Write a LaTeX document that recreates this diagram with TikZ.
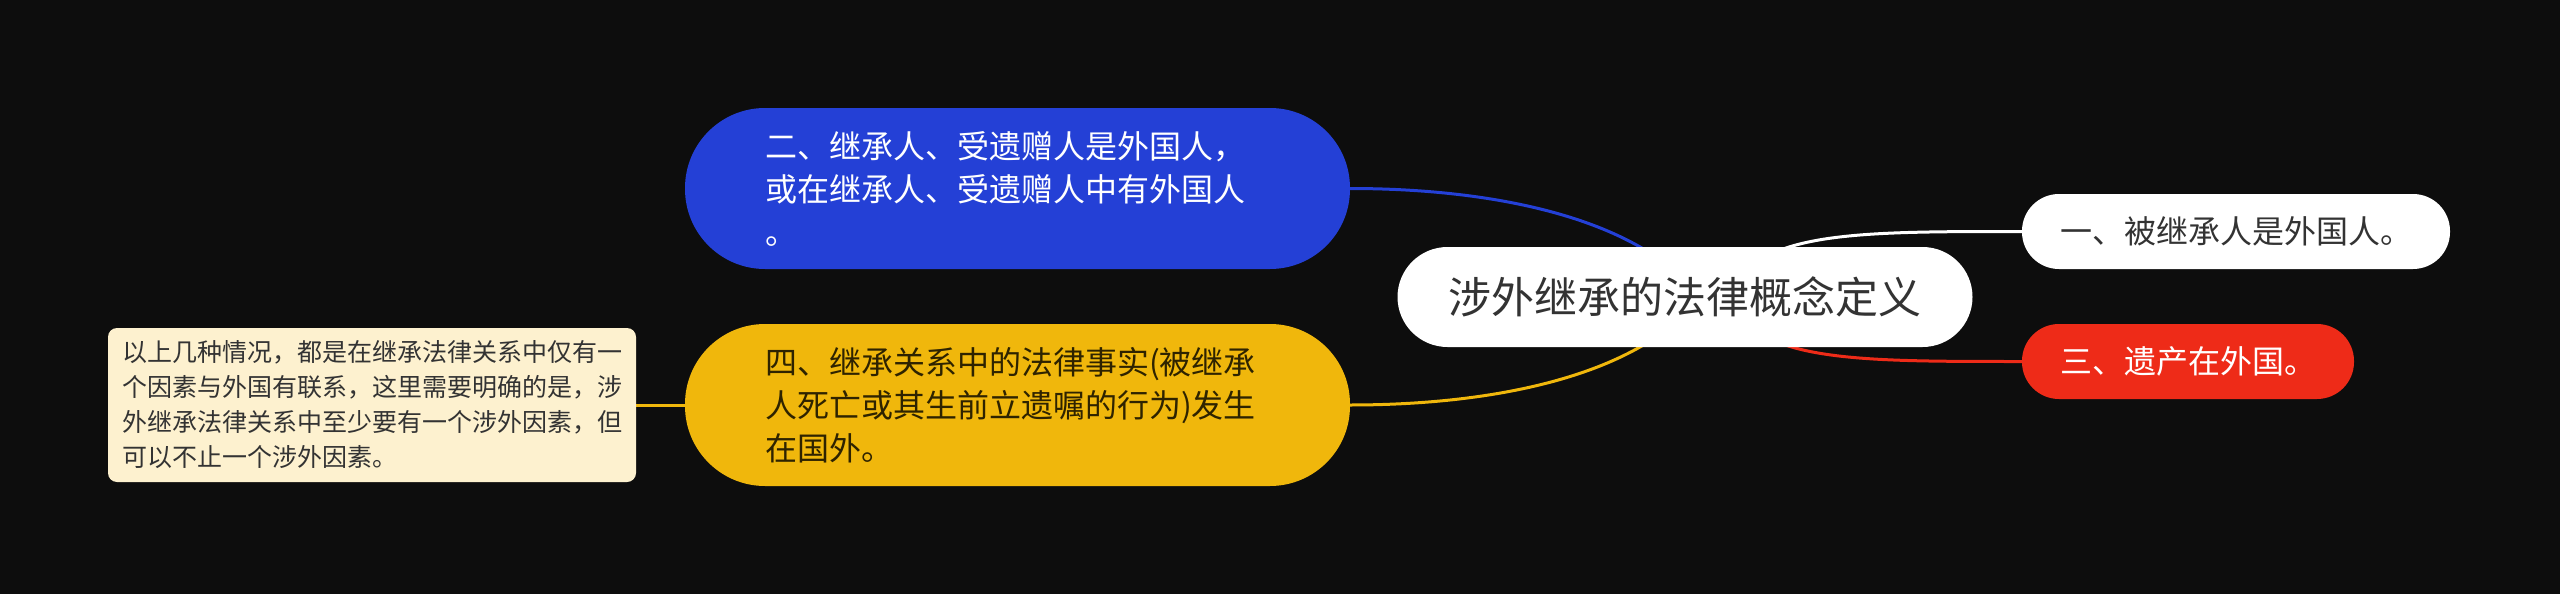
\documentclass[tikz,border=0pt]{standalone}
\usepackage{fontspec}
\setmainfont{Noto Sans CJK SC}
\definecolor{bgc}{HTML}{0D0D0D}
\definecolor{blueN}{HTML}{2440D6}
\definecolor{yellowN}{HTML}{F0B70C}
\definecolor{redN}{HTML}{EE2B18}
\definecolor{noteN}{HTML}{FDF1CF}
\definecolor{darkT}{HTML}{333333}
\definecolor{brownT}{HTML}{2E2300}
\pgfdeclarelayer{bg}
\pgfsetlayers{bg,main}
\tikzset{
  pill/.style={inner sep=0pt, outer sep=0pt},
  edge/.style={line width=3pt},
  big/.style={font=\fontsize{32}{43}\selectfont},
}
\begin{document}
\begin{tikzpicture}[x=1pt,y=-1pt]
\begin{pgfonlayer}{bg}
\fill[bgc] (0,0) rectangle (2560,594);
\end{pgfonlayer}
\useasboundingbox (0,0) rectangle (2560,594);

% center
\node[pill, fill=white, minimum width=575pt, minimum height=100pt, rounded corners=50pt,
      text=darkT, font=\fontsize{43}{50}\selectfont] (root) at (1685,297) {涉外继承的法律概念定义};

% blue
\node[pill, fill=blueN, minimum width=665pt, minimum height=161pt, rounded corners=80pt,
      text=white, big, text width=505pt, inner xsep=80pt, align=left] (blue) at (1017.5,188.5)
      {二、继承人、受遗赠人是外国人，\\或在继承人、受遗赠人中有外国人\\。};

% yellow
\node[pill, fill=yellowN, minimum width=665pt, minimum height=162pt, rounded corners=80pt,
      text=brownT, big, text width=505pt, inner xsep=80pt, align=left] (yellow) at (1017.5,405)
      {四、继承关系中的法律事实(被继承\\人死亡或其生前立遗嘱的行为)发生\\在国外。};

% right nodes
\node[pill, fill=white, minimum width=428pt, minimum height=75pt, rounded corners=37pt,
      text=darkT, big] (one) at (2236,231.5) {一、被继承人是外国人。};
\node[pill, fill=redN, minimum width=332pt, minimum height=75pt, rounded corners=37pt,
      text=white, big] (three) at (2188,361.5) {三、遗产在外国。};

% note
\node[pill, fill=noteN, minimum width=528pt, minimum height=154pt, rounded corners=9pt,
      text=darkT, font=\fontsize{25}{35}\selectfont, text width=500pt, inner xsep=14pt, align=left]
      (note) at (372,405)
      {以上几种情况，都是在继承法律关系中仅有一\\个因素与外国有联系，这里需要明确的是，涉\\外继承法律关系中至少要有一个涉外因素，但\\可以不止一个涉外因素。};

\coordinate (hubL) at (1700,297);
\coordinate (hubR) at (1728,297);

\begin{pgfonlayer}{bg}
\draw[edge, blueN] (blue.east) .. controls (1500,188.5) and (1640,220) .. (hubL);
\draw[edge, yellowN] (yellow.east) .. controls (1500,405) and (1640,374) .. (hubL);
\draw[edge, white] (hubR) .. controls (1755,231.5) and (1850,231.5) .. (one.west);
\draw[edge, redN] (hubR) .. controls (1755,361.5) and (1850,361.5) .. (three.west);
\draw[edge, yellowN] (note.east) -- (yellow.west);
\end{pgfonlayer}
\end{tikzpicture}
\end{document}
